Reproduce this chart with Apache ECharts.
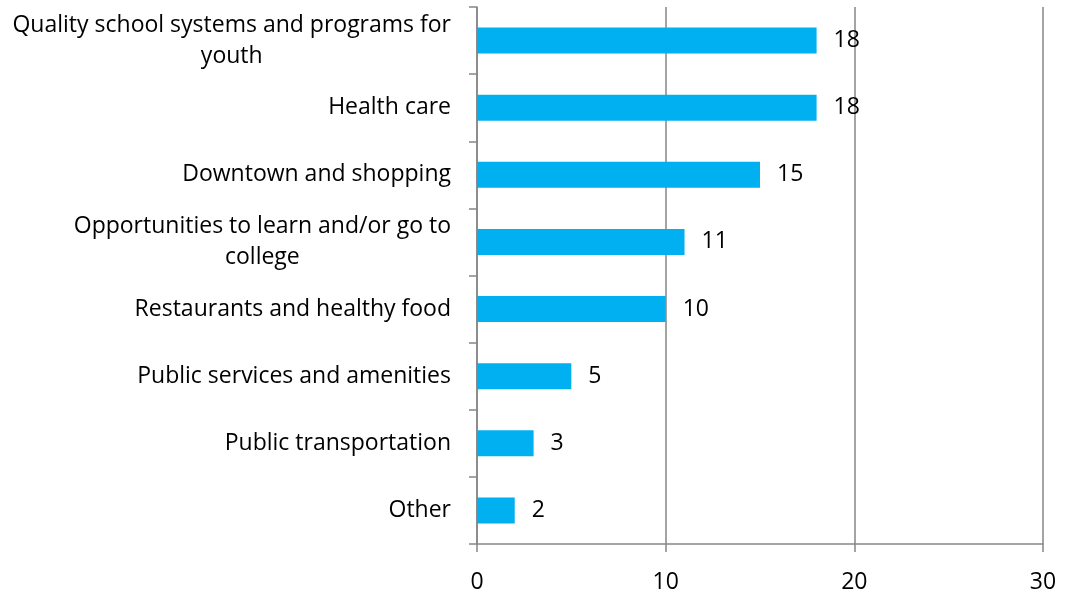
<!DOCTYPE html>
<html>
<head>
<meta charset="utf-8">
<script src="https://cdn.jsdelivr.net/npm/echarts@6/dist/echarts.min.js"></script>
<style>
html,body{margin:0;padding:0;background:#fff;}
#chart{width:1074px;height:592px;}
</style>
</head>
<body>
<div id="chart"></div>
<script>
const categories = [
  "Quality school systems and programs for\nyouth",
  "Health care",
  "Downtown and shopping",
  "Opportunities to learn and/or go to\ncollege",
  "Restaurants and healthy food",
  "Public services and amenities",
  "Public transportation",
  "Other"
];
const values = [18, 18, 15, 11, 10, 5, 3, 2];
const xTicks = { min: 0, max: 30, interval: 10 };

const FONT = "Open Sans";
const chart = echarts.init(document.getElementById('chart'), null, {renderer: 'canvas'});
chart.setOption({
  animation: false,
  backgroundColor: '#ffffff',
  grid: { left: 477, right: 31, top: 7, bottom: 48, containLabel: false, outerBoundsMode: 'none' },
  xAxis: {
    type: 'value',
    min: xTicks.min, max: xTicks.max, interval: xTicks.interval,
    axisLine: { show: true, lineStyle: { color: '#868686', width: 1.5 } },
    axisTick: { show: true, length: 8, lineStyle: { color: '#868686', width: 1.5 } },
    splitLine: { show: true, lineStyle: { color: '#868686', width: 1.5 } },
    axisLabel: { color: '#000', fontSize: 23, fontFamily: FONT, margin: 27 }
  },
  yAxis: {
    type: 'category',
    inverse: true,
    data: categories,
    axisLine: { show: true, lineStyle: { color: '#868686', width: 1.5 } },
    axisTick: { show: true, length: 8, interval: 0, lineStyle: { color: '#868686', width: 1.5 } },
    axisLabel: {
      color: '#000', fontSize: 23, fontFamily: FONT, margin: 26, align: 'right', lineHeight: 31, interval: 0,
      formatter: function (v) { return v.split('\n').map(function (s) { return '{c|' + s + '}'; }).join('\n'); },
      rich: { c: { align: 'center', color: '#000', fontSize: 23, fontFamily: FONT, lineHeight: 31 } }
    }
  },
  series: [{
    type: 'bar',
    data: values,
    barWidth: 26,
    itemStyle: { color: '#00B0F0' },
    label: { show: true, position: 'right', distance: 17, color: '#000', fontSize: 23, fontFamily: FONT }
  }]
});
</script>
</body>
</html>
